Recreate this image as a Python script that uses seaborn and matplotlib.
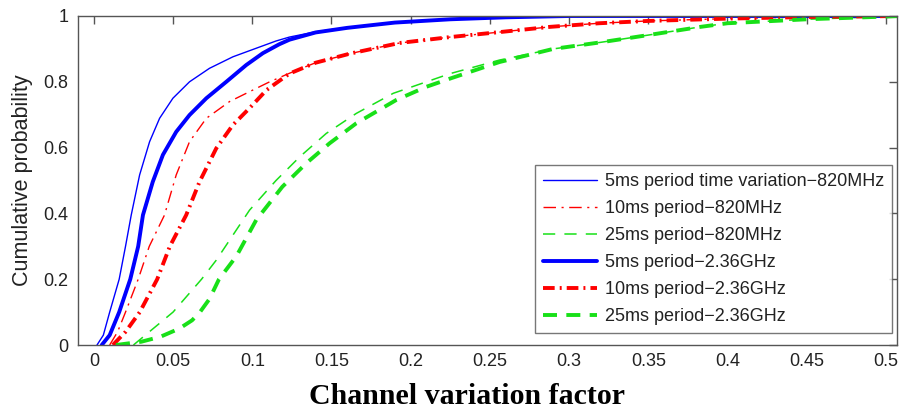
import numpy as np
import pandas as pd
import seaborn as sns
from matplotlib import pyplot as plt

# Valores (CDF do fator de variação do canal)

labels = ['5ms period time variation\u2212820MHz',
          '10ms period\u2212820MHz',
          '25ms period\u2212820MHz',
          '5ms period\u22122.36GHz',
          '10ms period\u22122.36GHz',
          '25ms period\u22122.36GHz']

blue_thin_x = [0.002, 0.006, 0.010, 0.016, 0.020, 0.0236, 0.0289, 0.0352, 0.0415, 0.0499,
               0.0604, 0.073, 0.0878, 0.1025, 0.115, 0.1235, 0.14, 0.16, 0.19, 0.225,
               0.26, 0.30, 0.51]
blue_thin_y = [0, 0.03, 0.1, 0.2, 0.3, 0.395, 0.517, 0.618, 0.689, 0.75,
               0.80, 0.841, 0.876, 0.902, 0.924, 0.936, 0.952, 0.965, 0.98, 0.99,
               0.996, 1.0, 1.0]

red_thin_x = [0.010, 0.015, 0.020, 0.028, 0.035, 0.0446, 0.052, 0.0604, 0.071, 0.0857,
              0.0983, 0.111, 0.1235, 0.14, 0.162, 0.193, 0.225, 0.256, 0.288, 0.319,
              0.35, 0.40, 0.45, 0.51]
red_thin_y = [0, 0.04, 0.1, 0.2, 0.3, 0.395, 0.517, 0.618, 0.689, 0.74,
              0.77, 0.80, 0.826, 0.858, 0.886, 0.918, 0.936, 0.951, 0.967, 0.978,
              0.985, 0.992, 0.997, 1.0]

green_thin_x = [0.025, 0.0375, 0.050, 0.068, 0.0773, 0.0983, 0.115, 0.13, 0.1467, 0.1657,
                0.189, 0.21, 0.225, 0.256, 0.290, 0.320, 0.350, 0.383, 0.400, 0.450, 0.510]
green_thin_y = [0, 0.05, 0.1, 0.2, 0.258, 0.41, 0.50, 0.572, 0.643, 0.704,
                0.765, 0.80, 0.825, 0.866, 0.9, 0.92, 0.942, 0.967, 0.978, 0.99, 1.0]

blue_thick_x = [0.005, 0.010, 0.016, 0.023, 0.028, 0.031, 0.0372, 0.0436, 0.052, 0.0604,
                0.071, 0.0836, 0.0962, 0.1067, 0.117, 0.1235, 0.14, 0.16, 0.19, 0.225,
                0.26, 0.30, 0.51]
blue_thick_y = [0, 0.03, 0.1, 0.2, 0.3, 0.395, 0.496, 0.578, 0.648, 0.699,
                0.75, 0.80, 0.851, 0.887, 0.914, 0.928, 0.95, 0.964, 0.98, 0.99,
                0.996, 1.0, 1.0]

red_thick_x = [0.012, 0.020, 0.029, 0.040, 0.048, 0.0583, 0.0667, 0.0773, 0.0878, 0.0983,
               0.109, 0.1235, 0.14, 0.162, 0.193, 0.225, 0.256, 0.288, 0.319, 0.35,
               0.40, 0.45, 0.51]
red_thick_y = [0, 0.04, 0.1, 0.2, 0.3, 0.395, 0.496, 0.598, 0.669, 0.72,
               0.775, 0.825, 0.858, 0.886, 0.918, 0.936, 0.951, 0.967, 0.978, 0.985,
               0.992, 0.997, 1.0]

green_thick_x = [0.014, 0.030, 0.042, 0.054, 0.062, 0.067, 0.073, 0.079, 0.090, 0.1025,
                 0.119, 0.134, 0.1488, 0.1657, 0.191, 0.21, 0.225, 0.256, 0.290, 0.320,
                 0.350, 0.383, 0.400, 0.450, 0.510]
green_thick_y = [0, 0.01, 0.025, 0.05, 0.075, 0.1, 0.14, 0.2, 0.27, 0.38,
                 0.481, 0.552, 0.613, 0.674, 0.745, 0.785, 0.81, 0.86, 0.9, 0.92,
                 0.942, 0.967, 0.978, 0.99, 1.0]

x_ticks = [0, 0.05, 0.1, 0.15, 0.2, 0.25, 0.3, 0.35, 0.4, 0.45, 0.5]
x_tick_labels = ['0', '0.05', '0.1', '0.15', '0.2', '0.25', '0.3', '0.35', '0.4', '0.45', '0.5']
y_ticks = [0, 0.2, 0.4, 0.6, 0.8, 1.0]
y_tick_labels = ['0', '0.2', '0.4', '0.6', '0.8', '1']

series = [(blue_thin_x, blue_thin_y), (red_thin_x, red_thin_y), (green_thin_x, green_thin_y),
          (blue_thick_x, blue_thick_y), (red_thick_x, red_thick_y), (green_thick_x, green_thick_y)]

# Estilo das linhas (cor, largura, tracejado)

blue, red, green = '#0000ff', '#ff0000', '#18e018'
styles = [(blue, 1.0, '-'),
          (red, 1.0, (0, (9, 4, 1.5, 4))),
          (green, 1.1, (0, (8, 6))),
          (blue, 2.8, '-'),
          (red, 2.8, (0, (3, 1.3, 0.5, 1.3))),
          (green, 2.8, (0, (3.6, 2.4)))]

sns.set_style('white')
plt.rcParams['font.family'] = ['Liberation Sans', 'DejaVu Sans']

fig = plt.figure(figsize=(9.01, 4.17), dpi=100)
ax = fig.add_axes([78 / 901, 1 - 345 / 417, (897 - 78) / 901, (345 - 16) / 417])

for (xs, ys), lab, (c, lw, ls) in zip(series, labels, styles):
    df = pd.DataFrame({'x': xs, 'y': ys})
    sns.lineplot(data=df, x='x', y='y', ax=ax, color=c, linewidth=lw,
                 linestyle=ls, label=lab, estimator=None, sort=False)

ax.set_xlim(-0.01, 0.507)
ax.set_ylim(0, 1)
ax.set_xticks(x_ticks)
ax.set_xticklabels(x_tick_labels)
ax.set_yticks(y_ticks)
ax.set_yticklabels(y_tick_labels)

for s in ax.spines.values():
    s.set_color('#555555')
    s.set_linewidth(1.0)
ax.tick_params(direction='in', length=6, width=1, color='#555555',
               top=True, right=True, labelsize=13, labelcolor='#222222')
ax.tick_params(axis='x', pad=6)
ax.tick_params(axis='y', pad=7)

ax.set_ylabel('Cumulative probability', fontsize=15.5, color='#222222', labelpad=7)
ax.set_xlabel('Channel variation factor', fontsize=21.5, fontweight='bold',
              family=['Liberation Serif', 'DejaVu Serif'], color='black', labelpad=6)
ax.xaxis.set_label_coords(0.475, -0.115)
ax.xaxis.label.set_va('top')

leg = ax.legend(loc='lower right', bbox_to_anchor=(0.994, 0.036), borderaxespad=0,
                fontsize=13, frameon=True, fancybox=False, handlelength=3.0,
                handletextpad=0.4, labelspacing=0.55, borderpad=0.45)
leg.get_frame().set_edgecolor('#555555')
leg.get_frame().set_linewidth(1.0)
for t in leg.get_texts():
    t.set_color('#222222')

fig.savefig('out.png', dpi=100)
